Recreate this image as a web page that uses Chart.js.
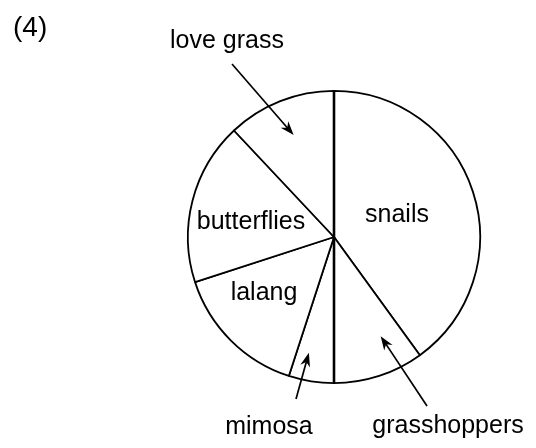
<!DOCTYPE html>
<html>
<head>
<meta charset="utf-8">
<script src="https://cdn.jsdelivr.net/npm/chart.js@4/dist/chart.umd.min.js"></script>
<style>
  html, body { margin: 0; padding: 0; background: #fff; }
  #wrap { width: 536px; height: 448px; }
</style>
</head>
<body>
<div id="wrap"><canvas id="pie" width="536" height="448"></canvas></div>
<script>
// Organisms in the habitat and their share (%)
let categories = ['snails', 'grasshoppers', 'mimosa', 'lalang', 'butterflies', 'love grass'];
let shares = [40, 10, 5, 15, 18, 12];

// Slices whose start edge is drawn with a heavier line
let heavyEdges = [0, 2];

// Labels written inside their slice
let insideLabels = [
    { index: 0, x: 397, y: 222 },
    { index: 4, x: 251, y: 229 },
    { index: 3, x: 264, y: 300 }
];

// Labels outside the pie, with an arrow to a point in the slice
// (t = fraction along the slice angle, r = fraction of radius)
let calloutLabels = [
    { index: 5, x: 227, y: 48, tailX: 232, tailY: 64, t: 0.5, r: 0.75 },
    { index: 2, x: 269, y: 434, tailX: 296, tailY: 399, t: 0.68, r: 0.81 },
    { index: 1, x: 448, y: 433, tailX: 427, tailY: 406, t: 0.3, r: 0.75 }
];

const FONT = '"Liberation Sans", Arial, sans-serif';

function drawArrow(ctx, x1, y1, x2, y2) {
    const ang = Math.atan2(y2 - y1, x2 - x1);
    const len = 14, half = 5;
    ctx.beginPath();
    ctx.moveTo(x1, y1);
    ctx.lineTo(x2 - Math.cos(ang) * len * 0.6, y2 - Math.sin(ang) * len * 0.6);
    ctx.lineWidth = 1.7;
    ctx.stroke();
    ctx.beginPath();
    ctx.moveTo(x2, y2);
    ctx.lineTo(x2 - Math.cos(ang) * len - Math.sin(ang) * half, y2 - Math.sin(ang) * len + Math.cos(ang) * half);
    ctx.lineTo(x2 - Math.cos(ang) * len * 0.7, y2 - Math.sin(ang) * len * 0.7);
    ctx.lineTo(x2 - Math.cos(ang) * len + Math.sin(ang) * half, y2 - Math.sin(ang) * len - Math.cos(ang) * half);
    ctx.closePath();
    ctx.fill();
}

const labelPlugin = {
    id: 'pieLabels',
    beforeDraw(chart) {
        const ctx = chart.ctx;
        ctx.save();
        ctx.fillStyle = '#fff';
        ctx.fillRect(0, 0, chart.width, chart.height);
        ctx.restore();
    },
    afterDraw(chart) {
        const ctx = chart.ctx;
        const arcs = chart.getDatasetMeta(0).data;
        ctx.save();
        ctx.strokeStyle = '#000';
        ctx.fillStyle = '#000';

        // heavier radial edges
        heavyEdges.forEach(i => {
            const a = arcs[i];
            ctx.beginPath();
            ctx.moveTo(a.x, a.y);
            ctx.lineTo(a.x + Math.cos(a.startAngle) * a.outerRadius, a.y + Math.sin(a.startAngle) * a.outerRadius);
            ctx.lineWidth = 2.6;
            ctx.stroke();
        });

        // question number
        ctx.font = '28px ' + FONT;
        ctx.textAlign = 'left';
        ctx.textBaseline = 'alphabetic';
        ctx.fillText('(4)', 13, 36);

        ctx.font = '25px ' + FONT;
        ctx.textAlign = 'center';
        insideLabels.forEach(l => {
            ctx.fillText(categories[l.index], l.x, l.y);
        });

        calloutLabels.forEach(l => {
            const a = arcs[l.index];
            const ang = a.startAngle + (a.endAngle - a.startAngle) * l.t;
            const tipX = a.x + Math.cos(ang) * a.outerRadius * l.r;
            const tipY = a.y + Math.sin(ang) * a.outerRadius * l.r;
            ctx.fillText(categories[l.index], l.x, l.y);
            drawArrow(ctx, l.tailX, l.tailY, tipX, tipY);
        });
        ctx.restore();
    }
};

new Chart(document.getElementById('pie'), {
    type: 'pie',
    data: {
        labels: categories,
        datasets: [{
            data: shares,
            backgroundColor: '#fff',
            borderColor: '#000',
            borderWidth: 1.8,
            hoverOffset: 0,
            offset: 0
        }]
    },
    options: {
        responsive: false,
        animation: false,
        events: [],
        layout: { padding: { left: 187, right: 55, top: 90, bottom: 64 } },
        plugins: {
            legend: { display: false },
            tooltip: { enabled: false }
        }
    },
    plugins: [labelPlugin]
});
</script>
</body>
</html>
